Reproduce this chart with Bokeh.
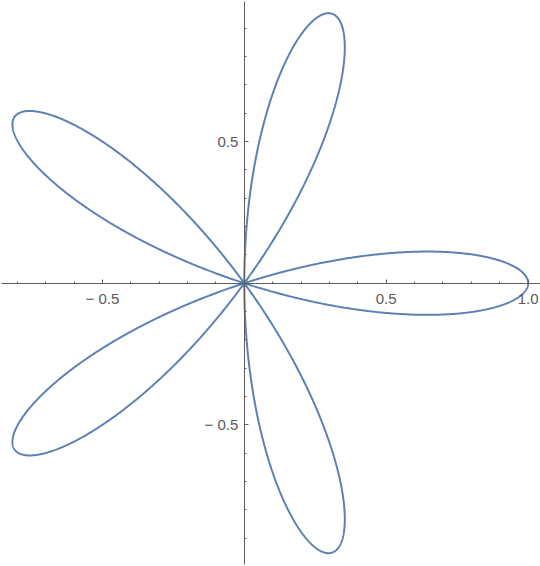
import numpy as np
from bokeh.plotting import figure
from bokeh.models import FixedTicker, CustomJSTickFormatter, Range1d
from bokeh.embed import file_html
from bokeh.resources import INLINE

# Rose curve r = a*cos(k*theta)
petals = 5
amplitude = 1.0
theta = np.linspace(0, np.pi, 3001)
r = amplitude * np.cos(petals * theta)
xs = r * np.cos(theta)
ys = r * np.sin(theta)

major_ticks = [-0.5, 0.5, 1.0]
minor_ticks_x = [-0.8, -0.7, -0.6, -0.4, -0.3, -0.2, -0.1, 0.1, 0.2, 0.3, 0.4, 0.6, 0.7, 0.8, 0.9]
minor_ticks_y = [-0.9, -0.8, -0.7, -0.6, -0.4, -0.3, -0.2, -0.1, 0.1, 0.2, 0.3, 0.4, 0.6, 0.7, 0.8, 0.9]
x_bounds = (-0.8555, 1.046)
y_bounds = (-0.994, 0.994)

W, H = 540, 566
SX, SY = 283.8, 283.3
x0 = -243.8 / SX
y1 = 282.7 / SY
p = figure(width=W, height=H, output_backend="svg", toolbar_location=None,
           x_range=Range1d(x0, x0 + W / SX),
           y_range=Range1d(y1 - H / SY, y1),
           min_border=0, outline_line_color=None, background_fill_color="white",
           border_fill_color="white")
p.grid.visible = False

p.line(xs, ys, line_color="#5e81b5", line_width=2)

fmt = CustomJSTickFormatter(code="return tick < 0 ? '\u2212 ' + Math.abs(tick).toFixed(1) : tick.toFixed(1);")
for ax, minor, b in ((p.xaxis[0], minor_ticks_x, x_bounds), (p.yaxis[0], minor_ticks_y, y_bounds)):
    ax.fixed_location = 0
    ax.bounds = b
    ax.ticker = FixedTicker(ticks=major_ticks, minor_ticks=minor)
    ax.formatter = fmt
    ax.axis_line_color = "#5e5e5e"
    ax.major_tick_line_color = "#5e5e5e"
    ax.minor_tick_line_color = "#5e5e5e"
    ax.major_tick_in = 4
    ax.major_tick_out = 0
    ax.minor_tick_in = 2
    ax.minor_tick_out = 0
    ax.major_label_text_color = "#5a5a5a"
    ax.major_label_text_font = "Liberation Sans"
    ax.major_label_text_font_size = "15px"
p.xaxis[0].major_label_standoff = 7
p.yaxis[0].major_label_standoff = 6

open("out.html", "w").write(file_html(p, INLINE))
